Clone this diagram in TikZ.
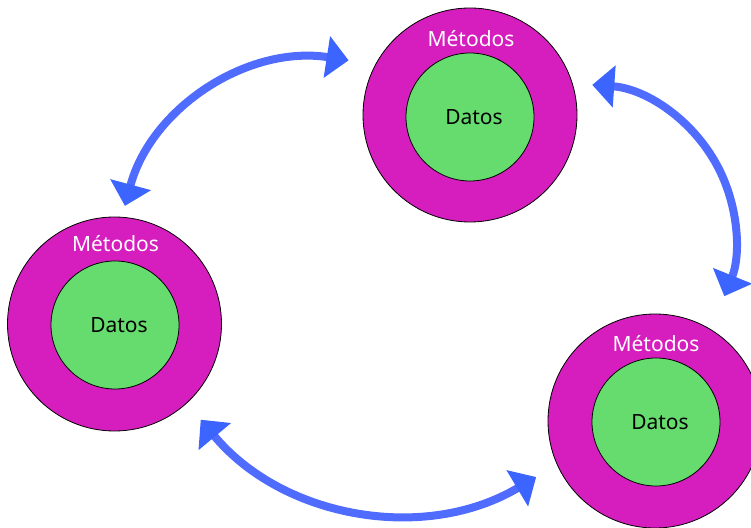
\documentclass[tikz,border=0pt]{standalone}
\usepackage{fontspec}
\setmainfont{Noto Sans}
\usetikzlibrary{arrows.meta,calc}
\definecolor{mag}{RGB}{214,30,190}
\definecolor{grn}{RGB}{103,220,110}
\definecolor{arrowblue}{RGB}{80,108,255}
\definecolor{tipblue}{RGB}{60,100,255}
\begin{document}
\begin{tikzpicture}[x=1pt,y=1pt,
  outerc/.style={circle,draw=black,line width=0.8pt,fill=mag,minimum size=214pt,inner sep=0pt},
  innerc/.style={circle,draw=black,line width=0.8pt,fill=grn,minimum size=128pt,inner sep=0pt,font=\fontsize{21}{25}\selectfont},
  metlabel/.style={anchor=base,text=white,font=\fontsize{21}{25}\selectfont,inner sep=0pt},
  conn/.style={draw=arrowblue,line width=8pt,>={Triangle[width=41pt,length=22pt,color=tipblue]},<->}
]
\useasboundingbox (0,0) rectangle (751,527);
\clip (0,0) rectangle (751,527);

% top
\node[outerc] (o1) at (470,412) {};
\node[innerc] (d1) at (470,410) {\hspace*{8pt}Datos};
\node[metlabel] (m1) at ($(o1.center)+(1,68)$) {Métodos};
% left
\node[outerc] (o2) at (114.5,203) {};
\node[innerc] (d2) at (115,202) {\hspace*{8pt}Datos};
\node[metlabel] (m2) at ($(o2.center)+(1,72)$) {Métodos};
% bottom right
\node[outerc] (o3) at (655,106) {};
\node[innerc] (d3) at (656,105) {\hspace*{8pt}Datos};
\node[metlabel] (m3) at ($(o3.center)+(1,69)$) {Métodos};

% arrows
\coordinate (c1) at (318,269);
\coordinate (a1) at ($(c1)+(164.9:200pt)$);
\draw[conn] (a1) arc[start angle=164.9,end angle=81.2,radius=200pt];

\coordinate (c2) at (581.5,288.5);
\coordinate (a2) at ($(c2)+(86:154pt)$);
\draw[conn] (a2) arc[start angle=86,end angle=-22,radius=154pt];

\coordinate (c3) at (402,275);
\coordinate (a3) at ($(c3)+(219.8:262pt)$);
\draw[conn] (a3) arc[start angle=219.8,end angle=300.8,radius=262pt];
\end{tikzpicture}
\end{document}
